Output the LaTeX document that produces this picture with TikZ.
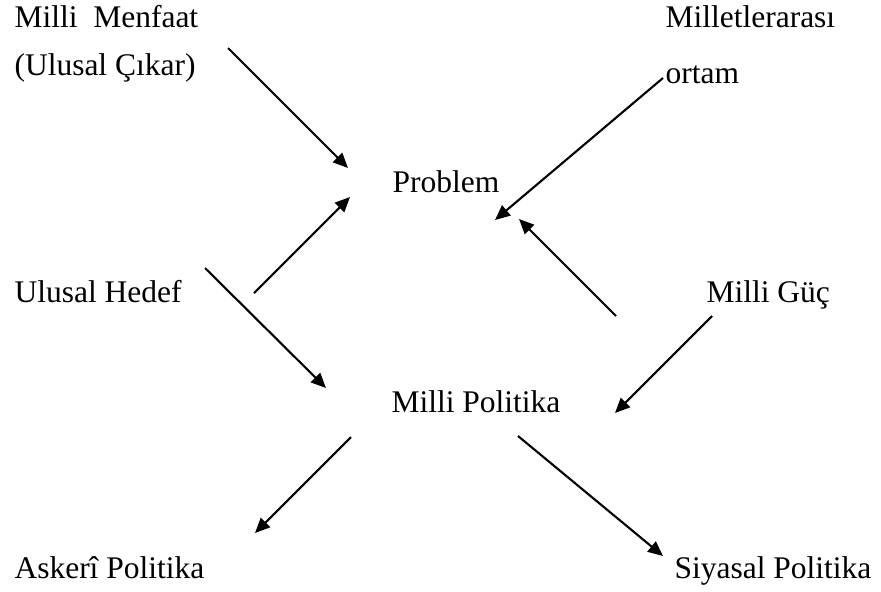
\documentclass[tikz,border=0pt]{standalone}
\usepackage{fontspec}
\setmainfont{Liberation Serif}
\usepackage{tikz}
\usetikzlibrary{arrows.meta}
\tikzset{lbl/.style={anchor=base west, inner sep=0pt, font=\fontsize{12pt}{14pt}\selectfont},
         link/.style={thick, -{Triangle[length=5.7pt, width=5pt]}}}

\begin{document}
\begin{tikzpicture}[x=0.381pt, y=-0.381pt]
				\useasboundingbox (0,0) rectangle (881,591);
				% texts
				\node[lbl] (Menfaat) at (14,27) {Milli\ \ Menfaat};
				\node[lbl] (Cikar) at (14,75) {(Ulusal Çıkar)};
				\node[lbl] (Milletler) at (665,27) {Milletlerarası};
				\node[lbl] (Ortam) at (665,83) {ortam};
				\node[lbl] (Problem) at (392,192) {Problem};
				\node[lbl] (Hedef) at (14,302) {Ulusal Hedef};
				\node[lbl] (Guc) at (706,302) {Milli Güç};
				\node[lbl] (Politika) at (391,412) {Milli Politika};
				\node[lbl] (Askeri) at (14,578) {Askerî Politika};
				\node[lbl] (Siyasal) at (674,578) {Siyasal Politika};
				% arrow ends
				\coordinate (MenfaatOut) at (228,48);
				\coordinate (ProblemInA) at (348,168);
				\coordinate (OrtamOut) at (663,78);
				\coordinate (ProblemInB) at (495,220);
				\coordinate (HedefUp) at (254,293);
				\coordinate (ProblemInC) at (350,197);
				\coordinate (GucUp) at (616,316);
				\coordinate (ProblemInD) at (519,219);
				\coordinate (HedefDown) at (205,268);
				\coordinate (PolitikaInA) at (326,388);
				\coordinate (GucDown) at (712,316);
				\coordinate (PolitikaInB) at (615,413);
				\coordinate (PolitikaOutA) at (351,437);
				\coordinate (AskeriIn) at (255,533);
				\coordinate (PolitikaOutB) at (518,436);
				\coordinate (SiyasalIn) at (663,556);
				% arrows
				\draw[link] (MenfaatOut) -- (ProblemInA);
				\draw[link] (OrtamOut) -- (ProblemInB);
				\draw[link] (HedefUp) -- (ProblemInC);
				\draw[link] (GucUp) -- (ProblemInD);
				\draw[link] (HedefDown) -- (PolitikaInA);
				\draw[link] (GucDown) -- (PolitikaInB);
				\draw[link] (PolitikaOutA) -- (AskeriIn);
				\draw[link] (PolitikaOutB) -- (SiyasalIn);
			\end{tikzpicture}
\end{document}
